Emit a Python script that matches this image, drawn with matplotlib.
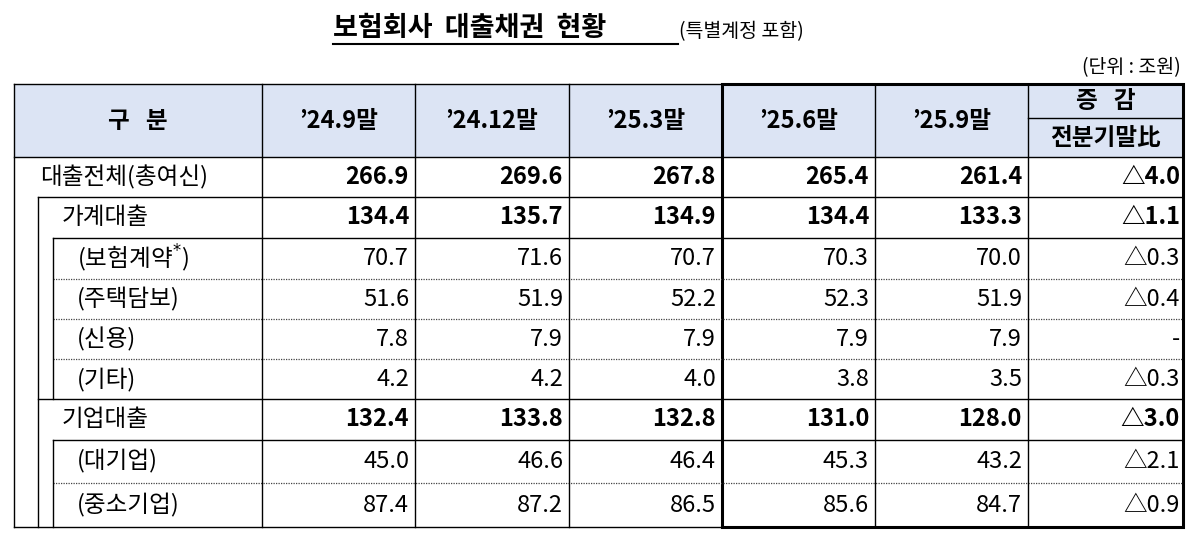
import matplotlib
matplotlib.use("Agg")
import matplotlib.pyplot as plt
from matplotlib.patches import Rectangle

plt.rcParams['font.family'] = ['Noto Sans CJK KR', 'DejaVu Sans']

columns = ["’24.9말", "’24.12말", "’25.3말", "’25.6말", "’25.9말"]
row_labels = ["대출전체(총여신)", "가계대출", "(보험계약*)", "(주택담보)", "(신용)", "(기타)",
              "기업대출", "(대기업)", "(중소기업)"]
values = [
    [266.9, 269.6, 267.8, 265.4, 261.4],
    [134.4, 135.7, 134.9, 134.4, 133.3],
    [70.7, 71.6, 70.7, 70.3, 70.0],
    [51.6, 51.9, 52.2, 52.3, 51.9],
    [7.8, 7.9, 7.9, 7.9, 7.9],
    [4.2, 4.2, 4.0, 3.8, 3.5],
    [132.4, 133.8, 132.8, 131.0, 128.0],
    [45.0, 46.6, 46.4, 45.3, 43.2],
    [87.4, 87.2, 86.5, 85.6, 84.7],
]
changes = ["△4.0", "△1.1", "△0.3", "△0.4", "-", "△0.3", "△3.0", "△2.1", "△0.9"]
bold_rows = [0, 1, 6]
indent = [0, 1, 2, 2, 2, 2, 1, 2, 2]

W, H = 1199, 545
fig = plt.figure(figsize=(W/100, H/100), dpi=100)
ax = fig.add_axes([0, 0, 1, 1])
ax.set_xlim(0, W); ax.set_ylim(H, 0); ax.axis('off')

xs = [14, 262, 415, 569, 722, 875, 1028, 1183]
ys = [84, 157, 197, 238, 279, 319, 359, 399, 440, 483, 527]
lw = 1.0
k = 'black'

ax.add_patch(Rectangle((xs[0], ys[0]), xs[-1]-xs[0], ys[1]-ys[0], facecolor='#DCE4F4', edgecolor='none'))

# title
ax.text(333, 28, "보험회사  대출채권  현황", fontsize=19.5, fontweight='bold', ha='left', va='center')
ax.plot([333, 678], [44, 44], color=k, lw=1.5)
ax.text(679, 32, "(특별계정 포함)", fontsize=14, ha='left', va='center')
ax.text(1181, 68, "(단위 : 조원)", fontsize=14, ha='right', va='center')

FS = 17
ax.text((xs[0]+xs[1])/2, 121, "구   분", fontsize=FS, fontweight='bold', ha='center', va='center')
for i, c in enumerate(columns):
    ax.text((xs[i+1]+xs[i+2])/2, 121, c, fontsize=FS, fontweight='bold', ha='center', va='center')
ax.text((xs[6]+xs[7])/2, 101, "증   감", fontsize=FS, fontweight='bold', ha='center', va='center')
ax.text((xs[6]+xs[7])/2, 138, "전분기말比", fontsize=FS, fontweight='bold', ha='center', va='center')
ax.plot([xs[6], xs[7]], [118, 118], color=k, lw=lw)

label_x = [40, 62, 77]
for r, lab in enumerate(row_labels):
    yc = (ys[r+1]+ys[r+2])/2
    fw = 'bold' if r in bold_rows else 'normal'
    if lab.endswith("*)"):
        ax.text(label_x[indent[r]], yc, "(보험계약$^{*}$)", fontsize=FS, ha='left', va='center')
    else:
        ax.text(label_x[indent[r]], yc, lab, fontsize=FS, ha='left', va='center')
    for c in range(5):
        ax.text(xs[c+2]-6, yc, f"{values[r][c]:.1f}", fontsize=FS, fontweight=fw, ha='right', va='center')
    ax.text(xs[7]-3, yc, changes[r], fontsize=FS, fontweight=fw, ha='right', va='center')

ax.plot([xs[0], xs[-1]], [ys[0]]*2, color=k, lw=lw)
ax.plot([xs[0], xs[-1]], [ys[1]]*2, color=k, lw=lw)
ax.plot([38, xs[-1]], [ys[2]]*2, color=k, lw=lw)
ax.plot([53, xs[-1]], [ys[3]]*2, color=k, lw=lw)
for yy in [ys[4], ys[5], ys[6], ys[9]]:
    ax.plot([53, xs[-1]], [yy]*2, color='#444444', lw=0.9, ls=(0, (1, 1)))
ax.plot([38, xs[-1]], [ys[7]]*2, color=k, lw=lw)
ax.plot([53, xs[-1]], [ys[8]]*2, color=k, lw=lw)
ax.plot([xs[0], xs[-1]], [ys[10]]*2, color=k, lw=lw)

for x in xs:
    ax.plot([x, x], [ys[0], ys[10]], color=k, lw=lw)
ax.plot([38, 38], [ys[2], ys[10]], color=k, lw=lw)
ax.plot([53, 53], [ys[3], ys[7]], color=k, lw=lw)
ax.plot([53, 53], [ys[8], ys[10]], color=k, lw=lw)

ax.add_patch(Rectangle((xs[4], ys[0]), xs[7]-xs[4], ys[10]-ys[0], facecolor='none', edgecolor=k, lw=2.2))

fig.savefig("out.png", dpi=100, facecolor='white')
